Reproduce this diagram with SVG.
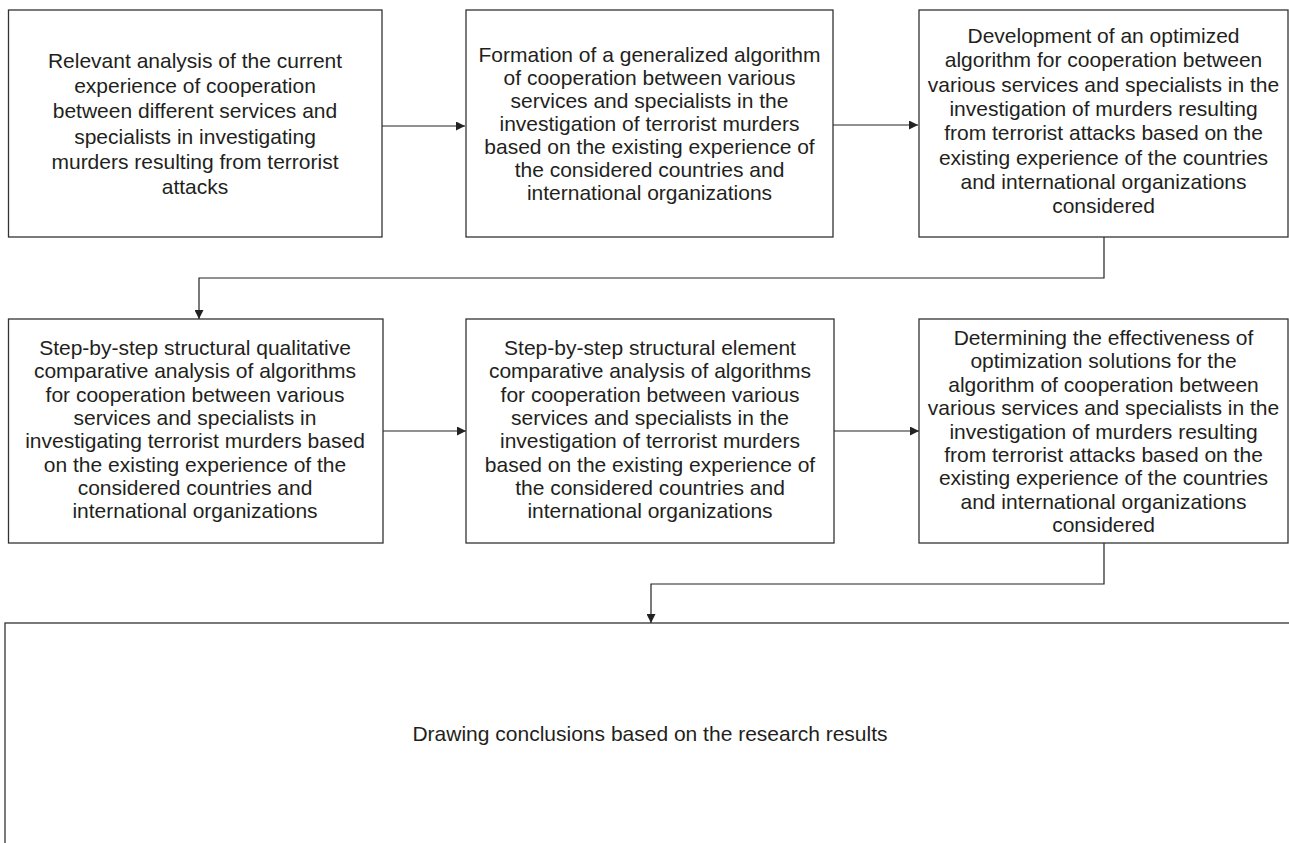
<svg xmlns="http://www.w3.org/2000/svg" width="1289" height="843" viewBox="0 0 1289 843">
<style>
.box{fill:#fff;stroke:#333;stroke-width:1.3}
.lbl{font-family:"Liberation Sans",Arial,sans-serif;font-size:21px;fill:#231f20;text-anchor:middle}
.con{fill:none;stroke:#222;stroke-width:1.2}
</style>
<defs>
<marker id="arr" viewBox="0 0 10 10" refX="10" refY="5" markerWidth="10" markerHeight="9" markerUnits="userSpaceOnUse" orient="auto">
<path d="M0,0 L10,5 L0,10 z" fill="#222"/>
</marker>
</defs>
<rect width="1289" height="843" fill="#fff"/>
<g id="connectors">
<path class="con" d="M382,126 H465" marker-end="url(#arr)"/>
<path class="con" d="M833,125 H918" marker-end="url(#arr)"/>
<path class="con" d="M1104,237 V278 H199 V319" marker-end="url(#arr)"/>
<path class="con" d="M383,431 H466" marker-end="url(#arr)"/>
<path class="con" d="M834,431 H919" marker-end="url(#arr)"/>
<path class="con" d="M1104,543 V584 H651 V623" marker-end="url(#arr)"/>
</g>
<g id="n1">
<rect class="box" x="8.5" y="10" width="373.5" height="227"/>
<text class="lbl"><tspan x="195" y="68">Relevant analysis of the current</tspan><tspan x="195" y="93.2">experience of cooperation</tspan><tspan x="195" y="118.4">between different services and</tspan><tspan x="195" y="143.6">specialists in investigating</tspan><tspan x="195" y="168.8">murders resulting from terrorist</tspan><tspan x="195" y="194">attacks</tspan></text>
</g>
<g id="n2">
<rect class="box" x="466" y="10" width="367" height="227"/>
<text class="lbl"><tspan x="649.5" y="62">Formation of a generalized algorithm</tspan><tspan x="649.5" y="85">of cooperation between various</tspan><tspan x="649.5" y="108">services and specialists in the</tspan><tspan x="649.5" y="131">investigation of terrorist murders</tspan><tspan x="649.5" y="154">based on the existing experience of</tspan><tspan x="649.5" y="177">the considered countries and</tspan><tspan x="649.5" y="200">international organizations</tspan></text>
</g>
<g id="n3">
<rect class="box" x="919" y="10" width="369" height="227"/>
<text class="lbl"><tspan x="1103.5" y="43">Development of an optimized</tspan><tspan x="1103.5" y="67.3">algorithm for cooperation between</tspan><tspan x="1103.5" y="91.6">various services and specialists in the</tspan><tspan x="1103.5" y="115.9">investigation of murders resulting</tspan><tspan x="1103.5" y="140.2">from terrorist attacks based on the</tspan><tspan x="1103.5" y="164.5">existing experience of the countries</tspan><tspan x="1103.5" y="188.8">and international organizations</tspan><tspan x="1103.5" y="213">considered</tspan></text>
</g>
<g id="n4">
<rect class="box" x="8.5" y="319" width="374.5" height="224"/>
<text class="lbl"><tspan x="195" y="355">Step-by-step structural qualitative</tspan><tspan x="195" y="378.3">comparative analysis of algorithms</tspan><tspan x="195" y="401.6">for cooperation between various</tspan><tspan x="195" y="424.9">services and specialists in</tspan><tspan x="195" y="448.2">investigating terrorist murders based</tspan><tspan x="195" y="471.5">on the existing experience of the</tspan><tspan x="195" y="494.8">considered countries and</tspan><tspan x="195" y="518">international organizations</tspan></text>
</g>
<g id="n5">
<rect class="box" x="466" y="319" width="368" height="224"/>
<text class="lbl"><tspan x="650" y="355">Step-by-step structural element</tspan><tspan x="650" y="378.3">comparative analysis of algorithms</tspan><tspan x="650" y="401.6">for cooperation between various</tspan><tspan x="650" y="424.9">services and specialists in the</tspan><tspan x="650" y="448.2">investigation of terrorist murders</tspan><tspan x="650" y="471.5">based on the existing experience of</tspan><tspan x="650" y="494.8">the considered countries and</tspan><tspan x="650" y="518">international organizations</tspan></text>
</g>
<g id="n6">
<rect class="box" x="919" y="319" width="369" height="224"/>
<text class="lbl"><tspan x="1103.5" y="345">Determining the effectiveness of</tspan><tspan x="1103.5" y="368.4">optimization solutions for the</tspan><tspan x="1103.5" y="391.8">algorithm of cooperation between</tspan><tspan x="1103.5" y="415.2">various services and specialists in the</tspan><tspan x="1103.5" y="438.6">investigation of murders resulting</tspan><tspan x="1103.5" y="462">from terrorist attacks based on the</tspan><tspan x="1103.5" y="485.4">existing experience of the countries</tspan><tspan x="1103.5" y="508.8">and international organizations</tspan><tspan x="1103.5" y="532">considered</tspan></text>
</g>
<g id="n7">
<rect class="box" x="5" y="623" width="1300" height="240"/>
<text class="lbl" x="650" y="741">Drawing conclusions based on the research results</text>
</g>
</svg>
